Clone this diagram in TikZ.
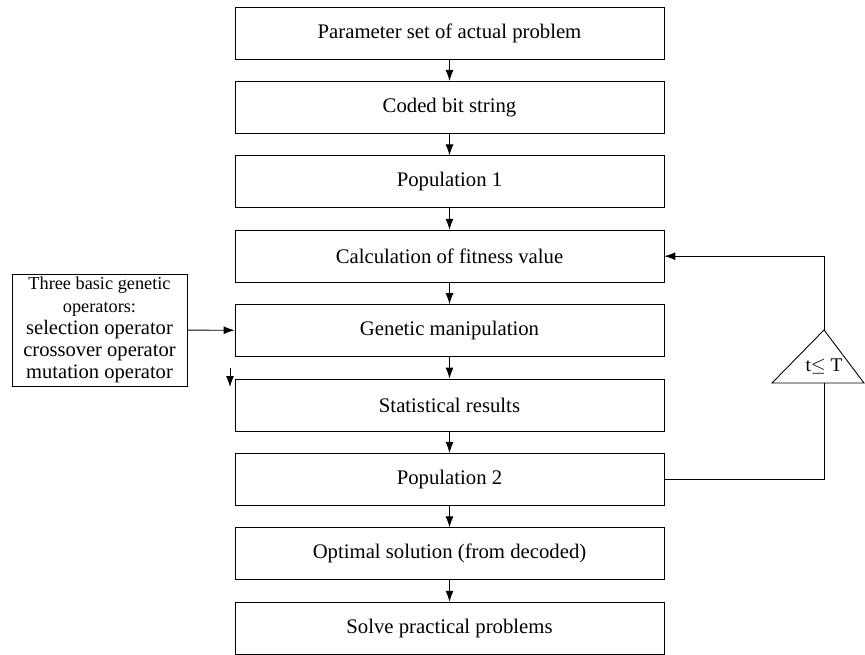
\documentclass[tikz,border=0pt]{standalone}
\usepackage{fontspec}
\setmainfont{Liberation Serif}
\usetikzlibrary{arrows.meta}
\tikzset{
  flowarrow/.style={-{Latex[length=2.2mm,width=1.6mm]}, line width=0.5pt},
  stagebox/.style={draw, line width=0.5pt, minimum width=8.58cm, minimum height=1.04cm, align=center, font=\fontsize{11.8}{13}\selectfont},
  opbox/.style={draw, line width=0.5pt, minimum width=3.5cm, minimum height=2.24cm, align=center, inner sep=1pt, font=\fontsize{11.7}{12.6}\selectfont},
  looplabel/.style={font=\fontsize{11}{12}\selectfont, inner sep=0pt}
}
\newcommand{\opsmall}{\fontsize{10.4}{11}\selectfont}
\begin{document}
\begin{tikzpicture}[x=0.02cm, y=-0.02cm]
  \useasboundingbox (0,0) rectangle (865,655);
  % main chain
  \node[stagebox] (par) at (449.5,33) {Parameter set of actual problem};
  \node[stagebox] (code) at (449.5,107.4) {Coded bit string};
  \node[stagebox] (pop1) at (449.5,181.8) {Population 1};
  \node[stagebox] (fit) at (449.5,256.2) {Calculation of fitness value};
  \node[stagebox] (gen) at (449.5,330.6) {Genetic manipulation};
  \node[stagebox] (stat) at (449.5,405) {Statistical results};
  \node[stagebox] (pop2) at (449.5,479.4) {Population 2};
  \node[stagebox] (opt) at (449.5,553.8) {Optimal solution (from decoded)};
  \node[stagebox] (solve) at (449.5,628.2) {Solve practical problems};
  \draw[flowarrow] (par) -- (code);
  \draw[flowarrow] (code) -- (pop1);
  \draw[flowarrow] (pop1) -- (fit);
  \draw[flowarrow] (fit) -- (gen);
  \draw[flowarrow] (gen) -- (stat);
  \draw[flowarrow] (stat) -- (pop2);
  \draw[flowarrow] (pop2) -- (opt);
  \draw[flowarrow] (opt) -- (solve);
  % operators
  \node[opbox] (ops) at (99.5,330) {{\opsmall Three basic genetic}\\ {\opsmall operators:}\\
    selection operator\\ crossover operator\\ mutation operator};
  \draw[flowarrow] (ops) -- (gen);
  \coordinate (s1) at (230,368);
  \coordinate (s2) at (230,387);
  \draw[flowarrow] (s1) -- (s2);
  % loop condition
  \coordinate (apex) at (824,330);
  \coordinate (bl) at (772,383);
  \coordinate (br) at (864,383);
  \coordinate (base) at (824,383);
  \draw[line width=0.5pt] (bl) -- (apex) -- (br) -- cycle;
  \node[looplabel] (cond) at (824,366) {t$\leq$ T};
  \draw[line width=0.5pt] (pop2.east) -| (base);
  \draw[flowarrow] (apex) |- (fit.east);
\end{tikzpicture}
\end{document}
